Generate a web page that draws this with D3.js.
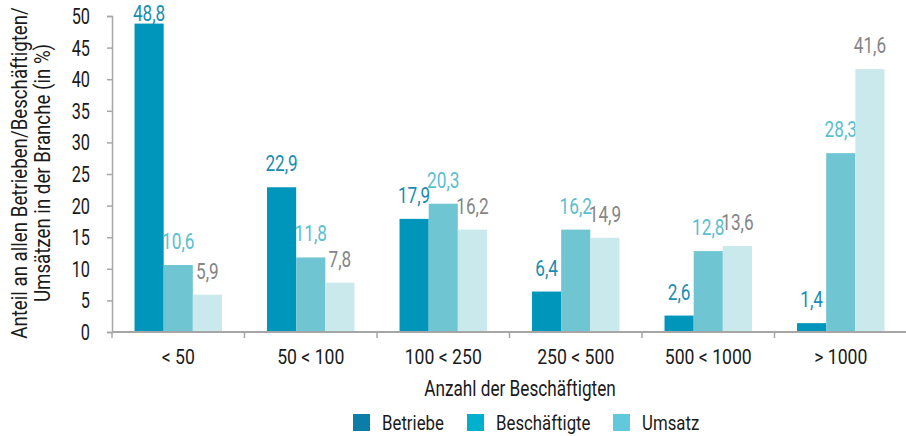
<!DOCTYPE html>
<html><head><meta charset="utf-8">
<script src="https://cdn.jsdelivr.net/npm/d3@7"></script>
<style>
body{margin:0;background:#fff;}
text{font-family:Roboto,"Liberation Sans",sans-serif;}
</style></head>
<body><svg id="c" width="906" height="436"></svg>
<script>
const categories = ["< 50","50 < 100","100 < 250","250 < 500","500 < 1000","> 1000"];
const seriesNames = ["Betriebe","Beschäftigte","Umsatz"];
const betriebe = [48.8,22.9,17.9,6.4,2.6,1.4];
const beschaeftigte = [10.6,11.8,20.3,16.2,12.8,28.3];
const umsatz = [5.9,7.8,16.2,14.9,13.6,41.6];
const yTicks = [0,5,10,15,20,25,30,35,40,45,50];

(function(){
const barColors = ["#0095ba","#6fc6d2","#cae9ec"];
const legendColors = ["#0a7ea8","#00afcb","#62c8db"];
const labelColors = ["#1a8cb4","#58c0cf","#858585"];
const ink = "#1a1a1a";

const svg = d3.select("#c");
const mLeft = 112, mRight = 907, mTop = 16, mBottom = 332;
const x0 = d3.scaleBand().domain(categories).range([mLeft,mRight]).paddingInner(0.34).paddingOuter(0.17);
const x1 = d3.scaleBand().domain(seriesNames).range([0,x0.bandwidth()]);
const y = d3.scaleLinear().domain([0,50]).range([mBottom,mTop]);
const seriesData = [betriebe,beschaeftigte,umsatz];

function ctext(sel, x, yv, size, sx){
  return sel.attr("transform",`translate(${x},${yv}) scale(${sx},1)`).attr("font-size",size);
}

seriesNames.forEach((s,si)=>{
  const g = svg.append("g");
  g.selectAll("rect").data(seriesData[si]).join("rect")
    .attr("x",(d,i)=>x0(categories[i])+x1(s))
    .attr("y",d=>y(d))
    .attr("width",x1.bandwidth())
    .attr("height",d=>y(0)-y(d))
    .attr("fill",barColors[si]);
  g.selectAll("text").data(seriesData[si]).join("text")
    .each(function(d,i){
      const cx = x0(categories[i])+x1(s)+x1.bandwidth()/2;
      const by = Math.max(y(d)-16, 21);
      ctext(d3.select(this), cx, by, 21.5, 0.8);
    })
    .attr("text-anchor","middle")
    .attr("fill",labelColors[si])
    .text(d=>d.toFixed(1).replace(".",","));
});

const ya = svg.append("g").attr("transform",`translate(${mLeft},0)`)
  .call(d3.axisLeft(y).tickValues(yTicks).tickSize(5).tickFormat(""));
ya.select(".domain").attr("stroke","#a6a6a6").attr("stroke-width",1.5);
ya.selectAll(".tick line").attr("stroke","#a6a6a6").attr("stroke-width",1.5);
svg.append("g").selectAll("text").data(yTicks).join("text")
  .each(function(d){ ctext(d3.select(this), 90, y(d)+8, 22, 0.74); })
  .attr("text-anchor","end").attr("fill",ink).text(d=>d);

const step = x0.step();
const xa = svg.append("g").attr("transform",`translate(0,${mBottom})`);
xa.append("line").attr("x1",mLeft).attr("x2",mRight).attr("stroke","#a6a6a6").attr("stroke-width",2);
const bounds = d3.range(categories.length).map(i=>mLeft+i*step);
xa.selectAll("line.t").data(bounds).join("line").attr("class","t")
  .attr("x1",d=>d).attr("x2",d=>d).attr("y1",0).attr("y2",6)
  .attr("stroke","#a6a6a6").attr("stroke-width",1.5);
svg.append("g").selectAll("text").data(categories).join("text")
  .each(function(d){ ctext(d3.select(this), x0(d)+x0.bandwidth()/2, 364, 21, 0.84); })
  .attr("text-anchor","middle").attr("fill",ink).text(d=>d);

ctext(svg.append("text"), 520, 396, 21.5, 0.8)
  .attr("text-anchor","middle").attr("fill",ink).text("Anzahl der Beschäftigten");
svg.append("text").attr("transform","translate(27,173) rotate(-90) scale(0.85,1)")
  .attr("text-anchor","middle").attr("font-size",22).attr("fill",ink)
  .text("Anteil an allen Betrieben/Beschäftigten/");
svg.append("text").attr("transform","translate(50,173) rotate(-90) scale(0.85,1)")
  .attr("text-anchor","middle").attr("font-size",22).attr("fill",ink)
  .text("Umsätzen in der Branche (in %)");

const legX = [353,467,613];
const lg = svg.selectAll("g.leg").data(seriesNames).join("g").attr("class","leg")
  .attr("transform",(d,i)=>`translate(${legX[i]},414)`);
lg.append("rect").attr("width",17).attr("height",17).attr("fill",(d,i)=>legendColors[i]);
lg.append("text").attr("transform","translate(29,15.5) scale(0.82,1)").attr("font-size",20.5)
  .attr("fill",ink).text(d=>d);
})();
</script></body></html>
